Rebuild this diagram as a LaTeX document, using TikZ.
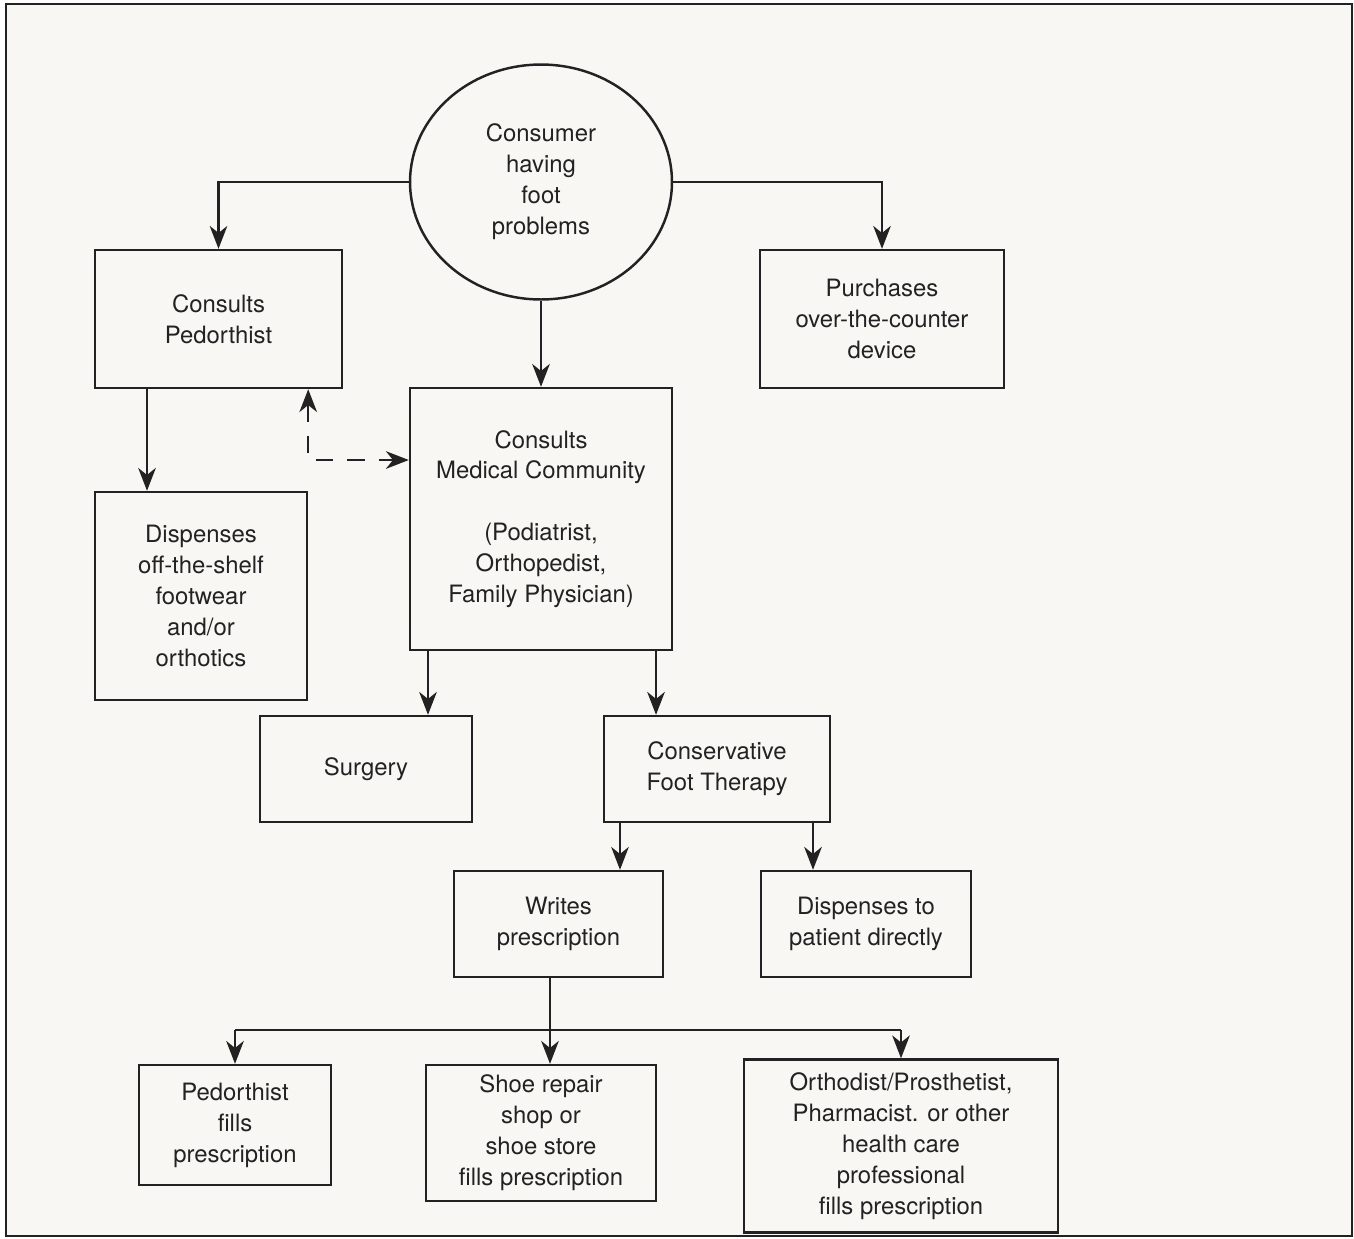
\documentclass[tikz,border=0pt]{standalone}
\usepackage{fontspec}
\setmainfont{TeX Gyre Heros}
\usepackage{tikz}
\usetikzlibrary{arrows.meta,positioning,shapes.geometric,calc}
\usepackage{xcolor}
\definecolor{paper}{RGB}{249,247,243}
\definecolor{ink}{RGB}{34,34,34}

\begin{document}
\begin{tikzpicture}[
    x=0.02cm, y=-0.02cm,
    every node/.style={font=\fontsize{13.6}{17.6}\selectfont, text=ink},
    block/.style={rectangle, draw=ink, line width=1.4pt,
                  align=center, inner sep=2pt},
    bubble/.style={ellipse, draw=ink, line width=1.4pt,
                   align=center, inner sep=0pt,
                   minimum width=5.24cm, minimum height=4.7cm},
    arrow/.style={-{Stealth[length=13pt,width=10pt,inset=4pt]}, draw=ink, line width=1.4pt},
    link/.style={draw=ink, line width=1.4pt},
    dasharrow/.style={{Stealth[length=13pt,width=10pt,inset=4pt]}-{Stealth[length=13pt,width=10pt,inset=4pt]},
                      draw=ink, line width=1.4pt, dash pattern=on 10pt off 8pt}
]
\useasboundingbox (0,0) rectangle (1354,1238);
\draw[ink, line width=1.4pt, fill=paper] (6,4) rectangle (1352,1236);

% top level
\node[bubble] (consumer) at (541,182) {Consumer\\having\\foot\\problems};
\node[block, minimum width=4.94cm, minimum height=2.76cm] (pedorthist) at (218.5,319)
    {Consults\\Pedorthist};
\node[block, minimum width=4.88cm, minimum height=2.76cm] (purchase) at (882,319)
    {Purchases\\over-the-counter\\device};
\node[block, minimum width=5.24cm, minimum height=5.24cm] (medical) at (541,519)
    {Consults\\Medical Community\\[17.6pt](Podiatrist,\\Orthopedist,\\Family Physician)};
\node[block, minimum width=4.24cm, minimum height=4.16cm] (offshelf) at (201,596)
    {Dispenses\\off-the-shelf\\footwear\\and/or\\orthotics};

% second level
\node[block, minimum width=4.24cm, minimum height=2.12cm] (surgery) at (366,769) {Surgery};
\node[block, minimum width=4.52cm, minimum height=2.12cm] (conservative) at (717,769)
    {Conservative\\Foot Therapy};
\node[block, minimum width=4.18cm, minimum height=2.12cm] (writes) at (558.5,924)
    {Writes\\prescription};
\node[block, minimum width=4.2cm, minimum height=2.12cm] (dispenses) at (866,924)
    {Dispenses to\\patient directly};

% who fills the prescription
\node[block, minimum width=3.84cm, minimum height=2.4cm] (pedfills) at (235,1125)
    {Pedorthist\\fills\\prescription};
\node[block, minimum width=4.6cm, minimum height=2.72cm] (shoe) at (541,1133)
    {Shoe repair\\shop or\\shoe store\\fills prescription};
\node[block, minimum width=6.28cm, minimum height=3.46cm] (orthodist) at (901,1146)
    {Orthodist/Prosthetist,\\Pharmacist. or other\\health care\\professional\\fills prescription};

% helper points
\coordinate (p1) at ([xshift=-1.08cm]offshelf.north);
\coordinate (m1) at ([xshift=1.24cm]surgery.north);
\coordinate (m2) at ([xshift=-1.22cm]conservative.north);
\coordinate (c1) at ([xshift=1.23cm]writes.north);
\coordinate (c2) at ([xshift=-1.06cm]dispenses.north);
\coordinate (w1) at ([xshift=-0.17cm]writes.south);
\coordinate (dcorner) at ([yshift=1.18cm]medical.west -| offshelf.east);
\coordinate (bus) at (0,1030);

\draw[arrow] (consumer.west) -| (pedorthist.north);
\draw[arrow] (consumer.east) -| (purchase.north);
\draw[arrow] (consumer.south) -- (medical.north);
\draw[arrow] (pedorthist.south -| p1) -- (p1);
\draw[dasharrow] (pedorthist.south -| dcorner) |- (medical.west |- dcorner);

\foreach \a/\b in {medical/m1, medical/m2, conservative/c1, conservative/c2}
    \draw[arrow] (\a.south -| \b) -- (\b);

\draw[link] (bus -| pedfills.north) -- (bus -| orthodist.north);
\draw[arrow] (bus -| pedfills.north) -- (pedfills.north);
\draw[arrow] (w1) -- (w1 |- shoe.north);
\draw[arrow] (bus -| orthodist.north) -- (orthodist.north);
\end{tikzpicture}
\end{document}
